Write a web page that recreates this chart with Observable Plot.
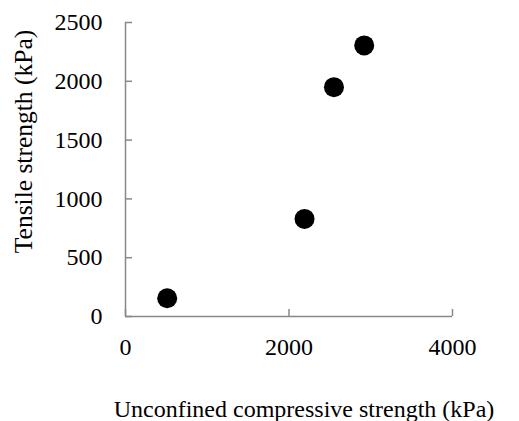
<!DOCTYPE html>
<html>
<head>
<meta charset="utf-8">
<script src="https://cdn.jsdelivr.net/npm/d3@7"></script>
<script src="https://cdn.jsdelivr.net/npm/@observablehq/plot@0.6"></script>
<style>
  html, body { margin: 0; padding: 0; background: #fff; }
  #chart svg { display: block; }
  #chart svg text { font-family: "Liberation Serif", "Times New Roman", serif; }
</style>
</head>
<body>
<div id="chart"></div>
<script>
const ucs = [510, 2190, 2550, 2920];
const tensile = [155, 830, 1950, 2305];
const xTicks = [0, 2000, 4000];
const yTicks = [0, 500, 1000, 1500, 2000, 2500];
const xTitle = "Unconfined compressive strength (kPa)";
const yTitle = "Tensile strength (kPa)";

const points = ucs.map((x, i) => ({x, y: tensile[i]}));
const axisColor = "#888888";
const font = "Liberation Serif, Times New Roman, serif";

const chart = Plot.plot({
  width: 519,
  height: 421,
  marginLeft: 125,
  marginRight: 67,
  marginTop: 22,
  marginBottom: 105,
  style: { fontFamily: font, fontSize: "24px", color: "#000", background: "#fff" },
  x: { domain: [0, 4000] },
  y: { domain: [0, 2500] },
  marks: [
    Plot.axisX({ ticks: xTicks, tickSize: -7, tickPadding: 28, stroke: axisColor, strokeWidth: 1.5, label: null, fontSize: 24, fontFamily: font, fill: "#000", tickFormat: d => String(d) }),
    Plot.axisY({ ticks: yTicks, tickSize: -7, tickPadding: 30, stroke: axisColor, strokeWidth: 1.5, label: null, fontSize: 24, fontFamily: font, fill: "#000", tickFormat: d => String(d) }),
    Plot.ruleY([0], { stroke: axisColor, strokeWidth: 1.5 }),
    Plot.ruleX([0], { stroke: axisColor, strokeWidth: 1.5 }),
    Plot.dot(points, { x: "x", y: "y", r: 10, fill: "#000", stroke: "none" }),
    Plot.text([xTitle], { frameAnchor: "bottom", dy: 100, dx: 15, lineAnchor: "bottom", fontSize: 24, fontFamily: font, fill: "#000" }),
    Plot.text([yTitle], { frameAnchor: "left", rotate: -90, dx: -112, dy: -28, textAnchor: "middle", lineAnchor: "top", fontSize: 25.5, fontFamily: font, fill: "#000" })
  ]
});
document.getElementById("chart").appendChild(chart);
</script>
</body>
</html>
